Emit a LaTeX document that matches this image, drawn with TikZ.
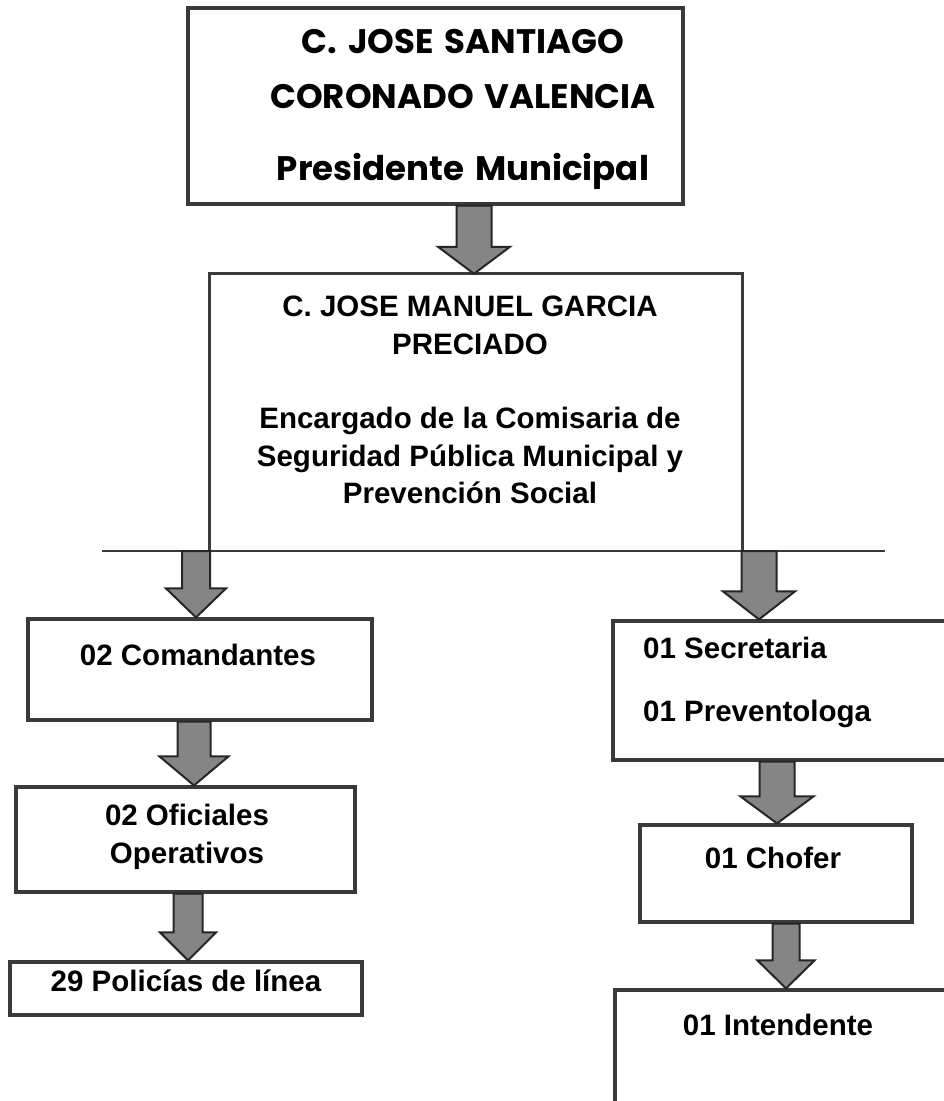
\documentclass[tikz,border=0pt]{standalone}
\usepackage{fontspec}
\setmainfont{Liberation Sans}
\newfontfamily\gothicfont{Poppins}[WordSpace=1.5]
\usetikzlibrary{calc}
\definecolor{boxline}{HTML}{3A3A3A}
\definecolor{arrowfill}{HTML}{858585}
\definecolor{arrowline}{HTML}{262626}
\tikzset{
  basw/.store in=\basw, bahw/.store in=\bahw, bahl/.store in=\bahl,
  box/.style={draw=boxline, line width=3.2pt, fill=white, inner sep=0pt},
  lbl/.style={font=\bfseries\fontsize{29.5}{37.5}\selectfont, align=center, inner sep=0pt},
  blockarrow/.style={basw=32pt, bahw=66pt, bahl=28pt, fill=arrowfill, draw=arrowline, line width=2pt, line join=miter,
    to path={let \p1=(\tikztostart), \p2=(\tikztotarget) in
      (\x1-\basw/2,\y1) -- (\x1+\basw/2,\y1) -- (\x1+\basw/2,\y2+\bahl) -- (\x1+\bahw/2,\y2+\bahl)
      -- (\x1,\y2) -- (\x1-\bahw/2,\y2+\bahl) -- (\x1-\basw/2,\y2+\bahl) -- cycle}}
}
\begin{document}
\begin{tikzpicture}[x=1pt, y=-1pt]
\useasboundingbox (0,0) rectangle (943,1101);
\fill[white] (0,0) rectangle (943,1101);

% top box
\node[box, minimum width=495pt, minimum height=196pt] (top) at (435.5,106) {};
\node[font=\gothicfont\bfseries\fontsize{34}{55}\selectfont, align=center, inner sep=0pt] (topt) at (463,109)
  {C. JOSE SANTIAGO\\CORONADO VALENCIA\\[17pt]Presidente Municipal};

% second box (open at the bottom)
\node[inner sep=0pt, minimum width=532pt, minimum height=277pt] (b2) at (476,412.5) {};
\draw[draw=boxline, line width=3.2pt] (b2.south west) |- (b2.north east) -- (b2.south east);
\node[lbl] (b2t) at (470,400) {C. JOSE MANUEL GARCIA\\PRECIADO\\[37pt]Encargado de la Comisaria de\\Seguridad Pública Municipal y\\Prevención Social};

% horizontal line
\coordinate (hl1) at (102,551);
\coordinate (hl2) at (885,551);
\draw[draw=boxline, line width=2.4pt] (hl1) -- (hl2);

% left column
\node[box, minimum width=344pt, minimum height=101pt] (com) at (200,669.5) {};
\node[lbl] (comt) at (198,655) {02 Comandantes};
\node[box, minimum width=339pt, minimum height=105pt] (ofi) at (185.5,839.5) {};
\node[lbl] (ofit) at (187,837) {02 Oficiales\\Operativos};
\node[box, minimum width=352pt, minimum height=53pt] (pol) at (186,988.5) {};
\node[lbl] (polt) at (186,981) {29 Policías de línea};

% right column
\node[box, minimum width=347pt, minimum height=139pt] (sec) at (786.5,690.5) {};
\node[lbl, anchor=west, align=left] (sect) at (643,682) {01 Secretaria\\[25.5pt]01 Preventologa};
\node[box, minimum width=272pt, minimum height=97pt] (cho) at (776,873.5) {};
\node[lbl] (chot) at (773,858) {01 Chofer};
\node[box, minimum width=347pt, minimum height=140pt] (int) at (788.5,1060) {};
\node[lbl] (intt) at (778,1025) {01 Intendente};

% arrow x positions
\coordinate (x1) at (474,0);
\coordinate (x2) at (196,0);
\coordinate (x3) at (759,0);
\coordinate (x4) at (194,0);
\coordinate (x5) at (188,0);
\coordinate (x6) at (777,0);
\coordinate (x7) at (786,0);

% block arrows
\draw[blockarrow, basw=35pt, bahw=72pt, bahl=27pt] (top.south -| x1) to (b2.north -| x1);
\draw[blockarrow, basw=28pt, bahw=60pt, bahl=29pt] (hl1 -| x2) to (com.north -| x2);
\draw[blockarrow, basw=35pt, bahw=72pt, bahl=28pt] (hl1 -| x3) to (sec.north -| x3);
\draw[blockarrow, basw=33pt, bahw=69pt, bahl=29pt] (com.south -| x4) to (ofi.north -| x4);
\draw[blockarrow, basw=29pt, bahw=56pt, bahl=28pt] (ofi.south -| x5) to (pol.north -| x5);
\draw[blockarrow, basw=35pt, bahw=73pt, bahl=27pt] (sec.south -| x6) to (cho.north -| x6);
\draw[blockarrow, basw=27pt, bahw=57pt, bahl=28pt] (cho.south -| x7) to (int.north -| x7);
\end{tikzpicture}
\end{document}
